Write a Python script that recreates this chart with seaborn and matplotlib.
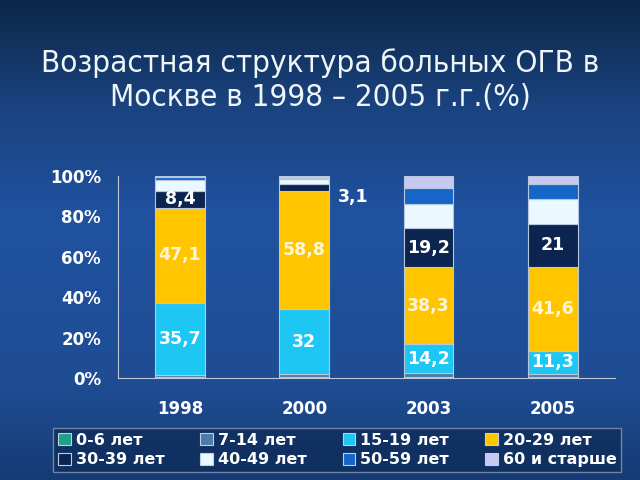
import numpy as np
import pandas as pd
import matplotlib
matplotlib.use("Agg")
import matplotlib.pyplot as plt
import seaborn as sns
from matplotlib.colors import LinearSegmentedColormap
from matplotlib.patches import Patch

# Data (%)
years = ["1998", "2000", "2003", "2005"]
groups = ["0-6 лет", "7-14 лет", "15-19 лет", "20-29 лет",
          "30-39 лет", "40-49 лет", "50-59 лет", "60 и старше"]
age_0_6 = [0.5, 0.5, 0.7, 0.6]
age_7_14 = [1.0, 1.5, 1.8, 1.6]
age_15_19 = [35.7, 32.0, 14.2, 11.3]
age_20_29 = [47.1, 58.8, 38.3, 41.6]
age_30_39 = [8.4, 3.1, 19.2, 21.0]
age_40_49 = [5.3, 2.6, 12.0, 12.4]
age_50_59 = [1.3, 0.7, 8.0, 7.5]
age_60 = [0.7, 0.8, 5.8, 4.0]
labels_15_19 = ["35,7", "32", "14,2", "11,3"]
labels_20_29 = ["47,1", "58,8", "38,3", "41,6"]
labels_30_39 = ["8,4", "3,1", "19,2", "21"]

colors = ["#1fa08a", "#4d7aa6", "#1ec6f4", "#ffc600",
          "#0b2550", "#eaf8ff", "#1566c8", "#c8c8f0"]

df = pd.DataFrame({"year": years})
series = [age_0_6, age_7_14, age_15_19, age_20_29,
          age_30_39, age_40_49, age_50_59, age_60]
for g, s in zip(groups, series):
    df[g] = s

sns.set_theme(style="white")
plt.rcParams["font.family"] = ["DejaVu Sans"]

fig = plt.figure(figsize=(6.4, 4.8), dpi=100)

# background gradient
bg = fig.add_axes([0, 0, 1, 1], zorder=0)
cmap = LinearSegmentedColormap.from_list(
    "bg", [(0, "#0d2748"), (0.22, "#1a4380"), (0.45, "#2052a0"),
           (0.8, "#1e4d94"), (1, "#163b74")])
grad = np.linspace(0, 1, 256).reshape(-1, 1)
bg.imshow(grad, aspect="auto", cmap=cmap, extent=[0, 1, 0, 1], origin="upper")
bg.axis("off")

ax = fig.add_axes([0.184, 0.2125, 0.777, 0.4208], zorder=1)
ax.set_facecolor("none")

bottom = np.zeros(len(years))
for g, c in zip(groups, colors):
    sns.barplot(data=df, x="year", y=g, color=c, width=0.4, bottom=bottom,
                edgecolor="#b8c8dc", linewidth=0.8, saturation=1, ax=ax)
    bottom = bottom + df[g].values

# segment labels
base_15 = np.array(age_0_6) + np.array(age_7_14)
base_20 = base_15 + np.array(age_15_19)
base_30 = base_20 + np.array(age_20_29)
for i in range(len(years)):
    ax.text(i, base_15[i] + age_15_19[i] / 2, labels_15_19[i], ha="center",
            va="center", color="white", fontsize=12.5, fontweight="bold")
    ax.text(i, base_20[i] + age_20_29[i] / 2, labels_20_29[i], ha="center",
            va="center", color="#fff6d8", fontsize=12.5, fontweight="bold")
    if age_30_39[i] > 5:
        ax.text(i, base_30[i] + age_30_39[i] / 2, labels_30_39[i], ha="center",
                va="center", color="white", fontsize=12.5, fontweight="bold")
    else:
        ax.text(i + 0.27, base_30[i] - 3, labels_30_39[i], ha="left",
                va="center", color="white", fontsize=12.5, fontweight="bold")

ax.set_ylim(0, 100)
ax.set_xlim(-0.5, 3.5)
ax.set_yticks([0, 20, 40, 60, 80, 100])
ax.set_yticklabels(["0%", "20%", "40%", "60%", "80%", "100%"])
ax.set_xticks([0.5, 1.5, 2.5], minor=True)
ax.set_xlabel("")
ax.set_ylabel("")
for lab in ax.get_xticklabels() + ax.get_yticklabels():
    lab.set_color("white")
    lab.set_fontweight("bold")
    lab.set_fontsize(12)
ax.tick_params(axis="x", which="major", length=0, pad=16)
ax.tick_params(axis="x", which="minor", length=4, color="#c0c8d8", direction="out", width=0.8)
ax.tick_params(axis="y", length=4, color="#c0c8d8", width=0.8, pad=8)
sns.despine(ax=ax, top=True, right=True)
for sp in ["left", "bottom"]:
    ax.spines[sp].set_color("#c0c8d8")
    ax.spines[sp].set_linewidth(0.8)

fig.text(0.5, 0.833, "Возрастная структура больных ОГВ в\nМоскве в 1998 – 2005 г.г.(%)",
         ha="center", va="center", color="#eef6f8", fontsize=22.5,
         fontstretch="condensed", linespacing=1.2)

# legend filled row by row
order = [0, 4, 1, 5, 2, 6, 3, 7]
handles = [Patch(facecolor=colors[k], edgecolor="#c0d0e0", linewidth=0.8) for k in order]
leg = fig.legend(handles, [groups[k] for k in order], loc="center",
                 bbox_to_anchor=(0.527, 0.0625),
                 ncol=4, frameon=True, fontsize=11.5, handlelength=0.8,
                 handleheight=0.8, handletextpad=0.3, columnspacing=2.25,
                 labelspacing=0.3, borderpad=0.3, fancybox=False)
leg.get_frame().set_facecolor("#0f2d5c")
leg.get_frame().set_edgecolor("#8898b0")
for t in leg.get_texts():
    t.set_color("white")
    t.set_fontweight("bold")

fig.savefig("out.png", dpi=100)
